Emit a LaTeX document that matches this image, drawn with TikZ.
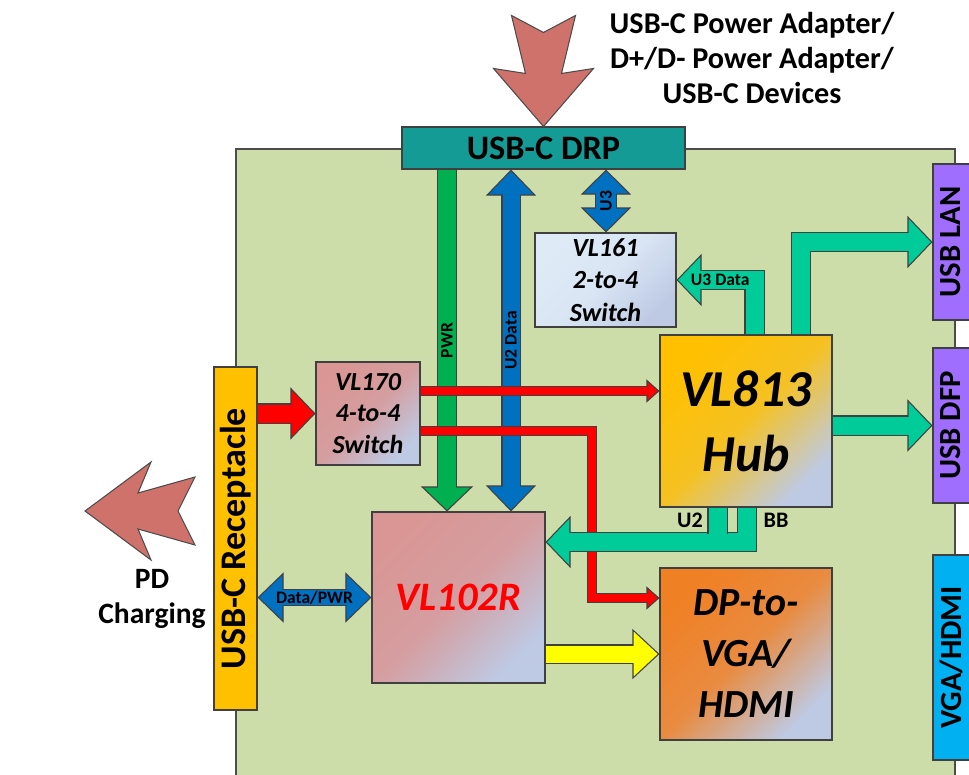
\documentclass[tikz,border=0pt]{standalone}
\usepackage{fontspec}
\setmainfont{Carlito}
\usepackage{graphicx}
\usetikzlibrary{arrows.meta,calc}
\definecolor{boardgreen}{RGB}{205,221,170}
\definecolor{drpteal}{RGB}{20,155,150}
\definecolor{recyellow}{RGB}{255,192,0}
\definecolor{portpurple}{RGB}{160,110,255}
\definecolor{portcyan}{RGB}{0,176,240}
\definecolor{hubgold}{RGB}{255,192,0}
\definecolor{dporange}{RGB}{240,128,36}
\definecolor{chippink}{RGB}{217,150,148}
\definecolor{switchblue}{RGB}{222,234,246}
\definecolor{steelblue}{RGB}{190,202,228}
\definecolor{pwrgreen}{RGB}{0,176,80}
\definecolor{datablue}{RGB}{0,112,192}
\definecolor{usbteal}{RGB}{0,204,153}
\definecolor{vidyellow}{RGB}{255,255,0}
\definecolor{sigred}{RGB}{255,0,0}
\definecolor{rosebrown}{RGB}{207,114,107}

\begin{document}
\begin{tikzpicture}[
  x=0.2mm, y=-0.2mm,
  chip/.style 2 args={draw=black!75, line width=0.6pt, top color=#1, bottom color=#2, middle color=#1!85!#2, shading angle=45, align=center, inner sep=0pt},
  port/.style={draw=black!75, line width=0.6pt, fill=#1, minimum width=8.6mm, inner sep=0pt, font=\bfseries\fontsize{18}{20}\selectfont},
  porttext/.style={font=\bfseries\fontsize{17.5}{20}\selectfont, inner sep=0pt},
  lbl/.style={font=\bfseries\fontsize{10}{11}\selectfont, inner sep=0pt},
  blk/.style n args={4}{draw=#1, line width=#2,
    arrows={-{Triangle[length=#3, width=#4, color=black!75, fill=#1, line width=0.6pt]}},
    preaction={draw=black!75, line width=#2+1.2pt, arrows=-, shorten >=0.6*#3},
    postaction={draw=#1, line width=#2, arrows=-, shorten >=#3-0.7mm}},
  dbl/.style n args={4}{draw=#1, line width=#2,
    arrows={{Triangle[length=#3, width=#4, color=black!75, fill=#1, line width=0.6pt]}-{Triangle[length=#3, width=#4, color=black!75, fill=#1, line width=0.6pt]}},
    preaction={draw=black!75, line width=#2+1.2pt, arrows=-, shorten >=0.6*#3, shorten <=0.6*#3},
    postaction={draw=#1, line width=#2, arrows=-, shorten >=#3-0.7mm, shorten <=#3-0.7mm}},
  fat/.style={blk={#1}{3.6mm}{5mm}{10.4mm}},
  thin/.style={blk={sigred}{1.6mm}{2.6mm}{4.6mm}},
  stub/.style={draw=usbteal, line width=3.6mm, preaction={draw=black!75, line width=3.6mm+1.2pt}},
  bigarrow/.style={draw=black!70, line width=0.6pt, fill=rosebrown, line join=miter}
]
\useasboundingbox (0,0) rectangle (969,774);
\clip (0,0) rectangle (969,774);

\draw[draw=black!70, line width=0.6pt, fill=boardgreen] (236,149) rectangle (955,800);

\node[draw=black!75, line width=0.6pt, fill=drpteal, minimum width=56.6mm, minimum height=8.4mm, inner sep=0pt, font=\bfseries\fontsize{19.5}{22}\selectfont] (drp) at (543.5,148) {USB-C DRP};
\node[font=\bfseries\fontsize{17.2}{19.8}\selectfont, align=center] (src) at (752,58) {USB-C Power Adapter/\\D+/D- Power Adapter/\\USB-C Devices};
\draw[bigarrow] (drp.north) -- ++(-50,-58) -- ++(32,5) -- ++(-14,-58) -- ++(32,17) -- ++(32,-17) -- ++(-14,58) -- ++(32,-5) -- cycle;

\node[port=portpurple, minimum height=31.2mm] (lan) at (954.5,242) {};
\node[port=portpurple, minimum height=31mm] (dfp) at (954.5,425.5) {};
\node[port=portcyan, minimum height=41mm] (vga) at (954.5,657.5) {};
\node[porttext] (lantext) at (951,242) {\rotatebox{90}{USB LAN}};
\node[porttext] (dfptext) at (951,425.5) {\rotatebox{90}{USB DFP}};
\node[porttext] (vgatext) at (951,657.5) {\rotatebox{90}{VGA/HDMI}};
\node[port=recyellow, minimum width=8.6mm, minimum height=68.6mm, font=\bfseries\fontsize{20.5}{22}\selectfont] (usbc) at (235.5,538.5) {\rotatebox{90}{USB-C Receptacle}};

\coordinate (pd) at (85,511);
\draw[bigarrow] (pd) -- ++(66,-49) -- ++(-13,31) -- ++(57,-16) -- ++(-17,34) -- ++(17,34) -- ++(-57,-16) -- ++(13,31) -- cycle;
\node[font=\bfseries\fontsize{16.8}{19.8}\selectfont, align=center] (pdlbl) at (152,599) {PD\\Charging};

\node[chip={chippink}{steelblue}, minimum width=20.8mm, minimum height=20.6mm, font=\bfseries\itshape\fontsize{14.8}{17.9}\selectfont] (vl170) at (368,413.5) {VL170\\4-to-4\\Switch};
\node[chip={switchblue}{steelblue}, minimum width=28.2mm, minimum height=18.8mm, font=\bfseries\itshape\fontsize{14.9}{18.4}\selectfont] (vl161) at (605.5,280) {VL161\\2-to-4\\Switch};
\node[chip={hubgold}{steelblue}, minimum width=34.4mm, minimum height=34.4mm, font=\bfseries\itshape\fontsize{29.5}{36.9}\selectfont] (hub) at (746,421) {VL813\\Hub};
\node[chip={dporange}{steelblue}, minimum width=34.4mm, minimum height=34.4mm, font=\bfseries\itshape\fontsize{22.7}{29}\selectfont] (dp) at (746,654) {DP-to-\\VGA/\\HDMI};
\node[chip={chippink}{steelblue}, minimum width=34.6mm, minimum height=34.2mm, text=sigred, font=\bfseries\itshape\fontsize{23}{26}\selectfont] (vl102r) at (458.5,597.5) {VL102R};

\coordinate (lnPWR) at (447,0);
\coordinate (lnU2D) at (511,0);
\coordinate (lnU3) at (606,0);
\coordinate (lnU3D) at (754.5,0);
\coordinate (lnLAN) at (801,0);
\coordinate (lnBB) at (747,0);
\coordinate (lnU2) at (717.5,534);
\coordinate (lnBUS) at (0,542);
\coordinate (lnHUB) at (0,391);
\coordinate (lnDP) at (0,431);
\coordinate (lnRED) at (592,598);

\draw[fat=pwrgreen] (drp.south -| lnPWR) -- (vl102r.north -| lnPWR) node[lbl, midway, rotate=90] {PWR};
\draw[dbl={datablue}{3.4mm}{5.2mm}{10mm}] (drp.south -| lnU2D) -- (vl102r.north -| lnU2D) node[lbl, midway, rotate=90] {U2 Data};
\draw[dbl={datablue}{4mm}{5mm}{10mm}] (drp.south -| lnU3) -- (vl161.north -| lnU3) node[lbl, midway, rotate=90] {U3};

\draw[fat=sigred] (usbc.east |- vl170.west) -- (vl170.west);
\draw[dbl={datablue}{3mm}{5.2mm}{10mm}] (usbc.east |- vl102r.west) -- (vl102r.west) node[lbl, midway] {Data/PWR};

\draw[thin] (vl170.east |- lnHUB) -- (hub.west |- lnHUB);
\draw[thin] (vl170.east |- lnDP) -| (lnRED) -- (dp.west |- lnRED);
\draw[blk={vidyellow}{3.4mm}{5.4mm}{10mm}] (vl102r.east |- dp.west) -- (dp.west);

\draw[fat=usbteal] (hub.east |- dfp.west) -- (dfp.west);
\draw[fat=usbteal] (hub.north -| lnLAN) |- (lan.west);
\draw[fat=usbteal] (hub.north -| lnU3D) |- (vl161.east) node[lbl, pos=0.72] {U3 Data};
\draw[fat=usbteal] (hub.south -| lnBB) |- (vl102r.east |- lnBUS);
\draw[stub] (hub.south -| lnU2) -- (lnU2);
\node[font=\bfseries\fontsize{12.6}{14}\selectfont] (u2) at (690,520) {U2};
\node[font=\bfseries\fontsize{12.6}{14}\selectfont] (bb) at (776,520) {BB};

\end{tikzpicture}
\end{document}
